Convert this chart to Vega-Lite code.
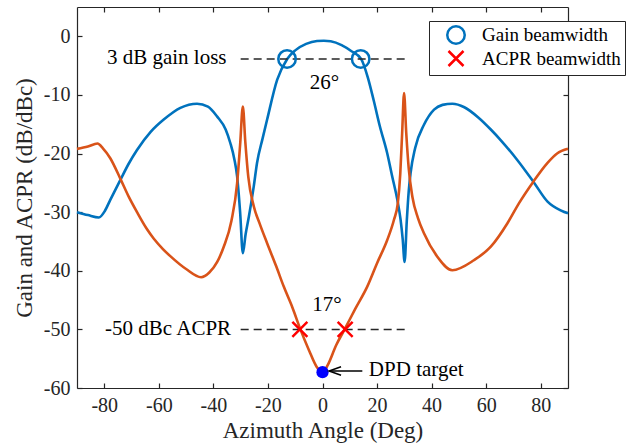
{
  "$schema": "https://vega.github.io/schema/vega-lite/v6.json",
  "width": 491,
  "height": 381,
  "autosize": {"type": "none"},
  "padding": {"left": 77, "top": 7, "right": 64, "bottom": 60},
  "background": "white",
  "config": {
    "view": {"stroke": null},
    "font": "Liberation Serif",
    "axis": {
      "grid": false,
      "domainColor": "#262626",
      "domainWidth": 1.2,
      "tickColor": "#262626",
      "tickWidth": 1.2,
      "labelColor": "#262626",
      "titleColor": "#262626",
      "labelFont": "Liberation Serif",
      "titleFont": "Liberation Serif",
      "labelFontSize": 20,
      "titleFontSize": 23,
      "titleFontWeight": "normal"
    },
    "legend": {
      "orient": "none", "legendX": 352, "legendY": 14, "strokeColor": "#262626", "fillColor": "white", "padding": 4,
      "symbolOffset": 13, "labelOffset": 16, "rowPadding": -6, "symbolSize": 170, "symbolStrokeWidth": 2.5,
      "labelFont": "Liberation Serif", "labelFontSize": 19, "labelColor": "black"
    }
  },
  "datasets": {
    "gain": [
      {"x": -90, "y": -30.0}, {"x": -86, "y": -30.5}, {"x": -82, "y": -30.9}, {"x": -79.8, "y": -29.8},
      {"x": -77.8, "y": -27.9}, {"x": -74, "y": -24.4}, {"x": -71, "y": -21.7}, {"x": -68, "y": -19.4},
      {"x": -63, "y": -16.3}, {"x": -58.2, "y": -14.2}, {"x": -52.1, "y": -12.2}, {"x": -46, "y": -11.5},
      {"x": -42, "y": -12.0}, {"x": -38.6, "y": -13.7}, {"x": -35.5, "y": -15.9}, {"x": -33.8, "y": -18.2},
      {"x": -32.3, "y": -21.0}, {"x": -31.3, "y": -23.9}, {"x": -30.2, "y": -30.0}, {"x": -29.2, "y": -37.0},
      {"x": -28.2, "y": -33.8}, {"x": -27, "y": -30.8}, {"x": -25.2, "y": -25.6}, {"x": -24, "y": -21.6},
      {"x": -22, "y": -17.5}, {"x": -20.3, "y": -14.2}, {"x": -16.6, "y": -7.4}, {"x": -13, "y": -3.9},
      {"x": -10, "y": -2.4}, {"x": -6, "y": -1.3}, {"x": -2, "y": -0.8}, {"x": 0.5, "y": -0.75},
      {"x": 3, "y": -0.85}, {"x": 7, "y": -1.5}, {"x": 10.5, "y": -2.5}, {"x": 14.2, "y": -3.9},
      {"x": 16.6, "y": -7.0}, {"x": 18.8, "y": -11.0}, {"x": 21, "y": -15.3}, {"x": 23.7, "y": -19.9},
      {"x": 25.6, "y": -24.0}, {"x": 27.4, "y": -27.8}, {"x": 28.6, "y": -31.2}, {"x": 29.4, "y": -34.6},
      {"x": 30.1, "y": -38.5}, {"x": 30.9, "y": -31.5}, {"x": 31.6, "y": -26.5}, {"x": 32.3, "y": -23.3},
      {"x": 34, "y": -19.0}, {"x": 37.2, "y": -15.1}, {"x": 40.9, "y": -12.5}, {"x": 44, "y": -11.7},
      {"x": 47.6, "y": -11.5}, {"x": 52, "y": -12.1}, {"x": 57, "y": -13.8}, {"x": 61.7, "y": -15.9},
      {"x": 65.3, "y": -17.7}, {"x": 71.4, "y": -21.1}, {"x": 77.3, "y": -24.8}, {"x": 82.5, "y": -28.2},
      {"x": 87.3, "y": -29.7}, {"x": 90, "y": -30.2}
    ],
    "acpr": [
      {"x": -90, "y": -19.2}, {"x": -86, "y": -18.8}, {"x": -82.5, "y": -18.3}, {"x": -80.5, "y": -19.1},
      {"x": -77.8, "y": -20.8}, {"x": -74, "y": -24.4}, {"x": -71, "y": -27.4}, {"x": -68, "y": -30.0},
      {"x": -64.5, "y": -32.8}, {"x": -61.9, "y": -34.5}, {"x": -58.5, "y": -36.3}, {"x": -55.8, "y": -37.5},
      {"x": -50, "y": -39.7}, {"x": -44.5, "y": -41.1}, {"x": -41.5, "y": -40.3},
      {"x": -38.6, "y": -38.5}, {"x": -36.2, "y": -35.9}, {"x": -33.4, "y": -31.5}, {"x": -31.3, "y": -25.1},
      {"x": -30.2, "y": -18.5}, {"x": -29.2, "y": -12.0}, {"x": -28.3, "y": -18.0}, {"x": -27.2, "y": -24.0},
      {"x": -25.2, "y": -29.0}, {"x": -23, "y": -32.0}, {"x": -20.3, "y": -35.3}, {"x": -17, "y": -39.2},
      {"x": -14.2, "y": -42.7}, {"x": -11, "y": -46.3}, {"x": -8.1, "y": -50.0}, {"x": -5, "y": -53.5},
      {"x": -2, "y": -56.5}, {"x": 0, "y": -57.4}, {"x": 2, "y": -56.0}, {"x": 5, "y": -52.7},
      {"x": 8.1, "y": -50.0}, {"x": 12, "y": -46.5}, {"x": 16.4, "y": -42.7}, {"x": 20, "y": -38.7},
      {"x": 23.7, "y": -34.8}, {"x": 26.2, "y": -31.3}, {"x": 27.6, "y": -28.5}, {"x": 28.5, "y": -23.5},
      {"x": 29.2, "y": -16.5}, {"x": 29.9, "y": -9.7}, {"x": 30.7, "y": -16.5}, {"x": 31.6, "y": -22.5},
      {"x": 33, "y": -27.5}, {"x": 35, "y": -31.0}, {"x": 37.2, "y": -33.6}, {"x": 42.1, "y": -37.6},
      {"x": 47.6, "y": -39.9}, {"x": 55.5, "y": -38.2}, {"x": 61.7, "y": -35.9}, {"x": 67.8, "y": -31.9},
      {"x": 72, "y": -28.5}, {"x": 77.3, "y": -24.8}, {"x": 82.5, "y": -21.6}, {"x": 86, "y": -20.0},
      {"x": 90, "y": -19.2}
    ],
    "markers": [
      {"x": -13, "y": -3.86, "series": "Gain beamwidth"},
      {"x": 14, "y": -3.86, "series": "Gain beamwidth"},
      {"x": -8.3, "y": -50, "series": "ACPR beamwidth"},
      {"x": 8.3, "y": -50, "series": "ACPR beamwidth"}
    ],
    "dashes": [
      {"x": -30, "x2": 31, "y": -3.86},
      {"x": -30, "x2": 31, "y": -50}
    ]
  },
  "layer": [
    {
      "data": {"name": "gain"},
      "mark": {"type": "line", "color": "#0072BD", "strokeWidth": 2.6, "interpolate": "monotone"},
      "encoding": {
        "x": {"field": "x", "type": "quantitative", "scale": {"domain": [-90, 90], "nice": false, "zero": false},
          "axis": {"orient": "bottom", "values": [-80, -60, -40, -20, 0, 20, 40, 60, 80], "tickSize": -5, "labelPadding": 12, "title": "Azimuth Angle (Deg)", "titlePadding": 4,
            "labelExpr": "datum.value < 0 ? '-' + abs(datum.value) : '' + datum.value"}},
        "y": {"field": "y", "type": "quantitative", "scale": {"domain": [-60, 5], "nice": false, "zero": false},
          "axis": {"orient": "left", "values": [-60, -50, -40, -30, -20, -10, 0], "tickSize": -5, "labelPadding": 12, "title": "Gain and ACPR (dB/dBc)", "titlePadding": 7,
            "labelExpr": "datum.value < 0 ? '-' + abs(datum.value) : '' + datum.value"}}
      }
    },
    {
      "data": {"name": "gain"},
      "mark": {"type": "point", "opacity": 0},
      "encoding": {
        "x": {"field": "x", "type": "quantitative", "axis": {"orient": "top", "values": [-80, -60, -40, -20, 0, 20, 40, 60, 80], "tickSize": -5, "labels": false, "title": null}},
        "y": {"field": "y", "type": "quantitative", "axis": {"orient": "right", "values": [-60, -50, -40, -30, -20, -10, 0], "tickSize": -5, "labels": false, "title": null}}
      }
    },
    {
      "data": {"name": "acpr"},
      "mark": {"type": "line", "color": "#D95319", "strokeWidth": 2.6, "interpolate": "monotone"},
      "encoding": {
        "x": {"field": "x", "type": "quantitative", "axis": null},
        "y": {"field": "y", "type": "quantitative", "axis": null}
      }
    },
    {
      "data": {"name": "dashes"},
      "mark": {"type": "rule", "color": "#262626", "strokeWidth": 1.5, "strokeDash": [8, 5]},
      "encoding": {
        "x": {"field": "x", "type": "quantitative", "axis": null},
        "x2": {"field": "x2"},
        "y": {"field": "y", "type": "quantitative", "axis": null}
      }
    },
    {
      "data": {"name": "markers"},
      "mark": {"type": "point", "filled": false, "strokeWidth": 2.5, "opacity": 1},
      "encoding": {
        "x": {"field": "x", "type": "quantitative", "axis": null},
        "y": {"field": "y", "type": "quantitative", "axis": null},
        "color": {"field": "series", "type": "nominal", "scale": {"domain": ["Gain beamwidth", "ACPR beamwidth"], "range": ["#0072BD", "#FF0000"]},
          "legend": {"title": null, "labelExpr": "datum.label + '\u2003'"}},
        "shape": {"field": "series", "type": "nominal", "scale": {"domain": ["Gain beamwidth", "ACPR beamwidth"], "range": ["circle", "M-1,-1L1,1M-1,1L1,-1"]},
          "legend": {"title": null, "labelExpr": "datum.label + '\u2003'"}},
        "size": {"field": "series", "type": "nominal", "scale": {"domain": ["Gain beamwidth", "ACPR beamwidth"], "range": [306, 225]}, "legend": null}
      }
    },
    {
      "data": {"values": [{"x": 0, "y": -57.3}]},
      "mark": {"type": "point", "filled": true, "color": "#0000FF", "size": 150, "opacity": 1},
      "encoding": {
        "x": {"field": "x", "type": "quantitative", "axis": null},
        "y": {"field": "y", "type": "quantitative", "axis": null}
      }
    },
    {
      "data": {"values": [{"x": 2.6, "x2": 14.6, "y": -57.1}]},
      "mark": {"type": "rule", "color": "black", "strokeWidth": 1.5},
      "encoding": {
        "x": {"field": "x", "type": "quantitative", "axis": null},
        "x2": {"field": "x2"},
        "y": {"field": "y", "type": "quantitative", "axis": null}
      }
    },
    {
      "data": {"values": [{"x": 4.6, "y": -57.1}]},
      "mark": {"type": "point", "shape": "M1,-0.7L-1,0L1,0.7", "filled": false, "color": "black", "strokeWidth": 1.5, "size": 144, "opacity": 1},
      "encoding": {
        "x": {"field": "x", "type": "quantitative", "axis": null},
        "y": {"field": "y", "type": "quantitative", "axis": null}
      }
    },
    {
      "data": {"values": [{"x": -35.2, "y": -3.7, "t": "3 dB gain loss"}, {"x": -33.5, "y": -49.9, "t": "-50 dBc ACPR"}]},
      "mark": {"type": "text", "align": "right", "baseline": "middle", "font": "Liberation Serif", "fontSize": 21, "color": "black"},
      "encoding": {
        "x": {"field": "x", "type": "quantitative", "axis": null},
        "y": {"field": "y", "type": "quantitative", "axis": null},
        "text": {"field": "t"}
      }
    },
    {
      "data": {"values": [{"x": 0.7, "y": -8.0, "t": "26°"}, {"x": 1.6, "y": -45.8, "t": "17°"}]},
      "mark": {"type": "text", "align": "center", "baseline": "middle", "font": "Liberation Serif", "fontSize": 21, "color": "black"},
      "encoding": {
        "x": {"field": "x", "type": "quantitative", "axis": null},
        "y": {"field": "y", "type": "quantitative", "axis": null},
        "text": {"field": "t"}
      }
    },
    {
      "data": {"values": [{"x": 17.0, "y": -57.0, "t": "DPD target"}]},
      "mark": {"type": "text", "align": "left", "baseline": "middle", "font": "Liberation Serif", "fontSize": 21, "color": "black"},
      "encoding": {
        "x": {"field": "x", "type": "quantitative", "axis": null},
        "y": {"field": "y", "type": "quantitative", "axis": null},
        "text": {"field": "t"}
      }
    }
  ],
  "resolve": {"axis": {"x": "independent", "y": "independent"}}
}
